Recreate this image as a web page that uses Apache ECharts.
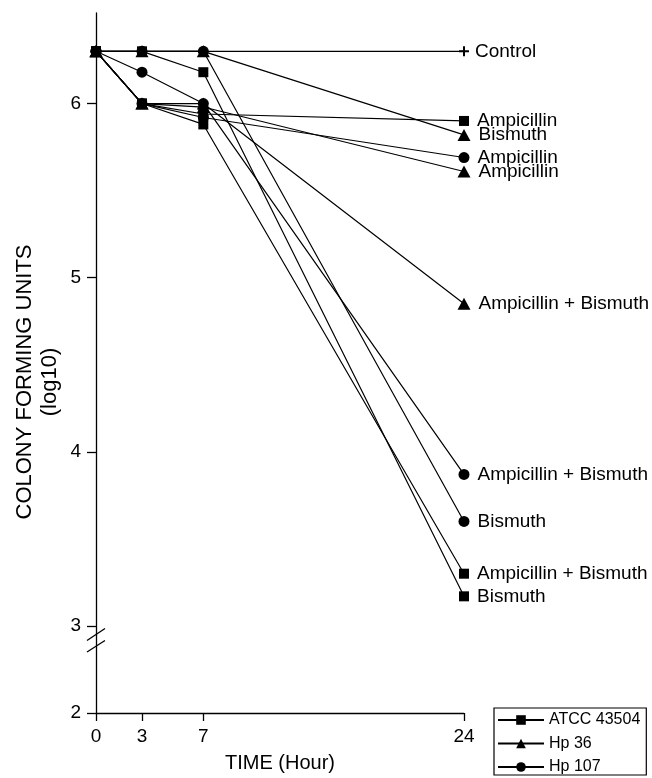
<!DOCTYPE html>
<html>
<head>
<meta charset="utf-8">
<script src="https://cdn.jsdelivr.net/npm/echarts@6/dist/echarts.min.js"></script>
<style>
html,body{margin:0;padding:0;background:#fff;}
#c{width:652px;height:778px;}
</style>
</head>
<body>
<div id="c"></div>
<script>
// ---- data ----
const times = [0, 3, 7, 24];
const xTickValues = [0, 3, 7, 24];
const yTickValues = [2, 3, 4, 5, 6];

const controlVals   = [6.3, 6.3, 6.3, 6.3];
// ATCC 43504 (squares)
const atccAmp       = [6.3, 6.0, 5.94, 5.9];
const atccAmpBis    = [6.3, 6.0, 5.88, 3.3];
const atccBis       = [6.3, 6.3, 6.18, 3.17];
// Hp 36 (triangles)
const hp36Bis       = [6.3, 6.3, 6.3, 5.82];
const hp36Amp       = [6.3, 6.0, 5.98, 5.61];
const hp36AmpBis    = [6.3, 6.0, 6.0, 4.85];
// Hp 107 (circles)
const hp107Bis      = [6.3, 6.3, 6.3, 3.6];
const hp107Amp      = [6.3, 6.0, 5.92, 5.69];
const hp107AmpBis   = [6.3, 6.18, 6.0, 3.87];

const strains = ['ATCC 43504', 'Hp 36', 'Hp 107'];

// broken axis: values below 3 are compressed by half
function toAxis(v){ return v >= 3 ? v : 3 - (3 - v) * 0.5; }
function fromAxis(a){ return a >= 3 ? a : 3 - (3 - a) * 2; }

const FONT = "'Liberation Sans', Arial, Helvetica, sans-serif";

function mk(strain, symbol, size, vals, treatment){
  return {
    name: strain, type: 'line', symbol: symbol, symbolSize: size,
    showAllSymbol: true, z: 3,
    lineStyle: {color: '#000', width: 1.2},
    itemStyle: {color: '#000'},
    emphasis: {disabled: true},
    data: vals.map(function(v, i){
      const item = {value: [times[i], toAxis(v)]};
      if (i === vals.length - 1) {
        item.label = {show: true, position: 'right', distance: 8, formatter: treatment,
          color: '#000', fontSize: 19, fontFamily: FONT};
      }
      return item;
    })
  };
}

const sq = 'rect', tri = 'triangle', cir = 'circle';
const series = [
  {
    name: 'Control', type: 'line', symbol: 'path://M4,0H6V4H10V6H6V10H4V6H0V4H4Z', symbolSize: 10,
    lineStyle: {color: '#000', width: 1.2}, itemStyle: {color: '#000'}, emphasis: {disabled: true},
    data: controlVals.map(function(v, i){
      const item = {value: [times[i], toAxis(v)]};
      if (i < controlVals.length - 1) item.symbol = 'none';
      else item.label = {show: true, position: 'right', distance: 6, formatter: 'Control',
        color: '#000', fontSize: 19, fontFamily: FONT};
      return item;
    })
  },
  mk(strains[2], cir, 11, hp107Bis, 'Bismuth'),
  mk(strains[2], cir, 11, hp107Amp, 'Ampicillin'),
  mk(strains[2], cir, 11, hp107AmpBis, 'Ampicillin + Bismuth'),
  mk(strains[1], tri, [13, 12], hp36Bis, 'Bismuth'),
  mk(strains[1], tri, [13, 12], hp36Amp, 'Ampicillin'),
  mk(strains[1], tri, [13, 12], hp36AmpBis, 'Ampicillin + Bismuth'),
  mk(strains[0], sq, 10, atccAmp, 'Ampicillin'),
  mk(strains[0], sq, 10, atccAmpBis, 'Ampicillin + Bismuth'),
  mk(strains[0], sq, 10, atccBis, 'Bismuth')
];

const chart = echarts.init(document.getElementById('c'), null, {renderer: 'canvas'});
chart.setOption({
  animation: false,
  backgroundColor: '#fff',
  textStyle: {fontFamily: FONT},
  grid: {left: 96, right: 188, top: 13, bottom: 63, containLabel: false},
  xAxis: {
    type: 'value', min: 0, max: 24,
    name: 'TIME (Hour)', nameLocation: 'middle', nameGap: 40,
    nameTextStyle: {color: '#000', fontSize: 20, fontFamily: FONT},
    axisLine: {show: true, lineStyle: {color: '#000', width: 1.3}},
    axisTick: {show: true, length: 8, lineStyle: {color: '#000', width: 1.3}, customValues: xTickValues},
    axisLabel: {color: '#000', fontSize: 19, margin: 14, customValues: xTickValues, fontFamily: FONT},
    splitLine: {show: false}
  },
  yAxis: {
    type: 'value', min: 2.5, max: 6.52,
    axisLine: {show: true, lineStyle: {color: '#000', width: 1.3}},
    axisTick: {show: true, length: 9, lineStyle: {color: '#000', width: 1.3}, customValues: yTickValues.map(toAxis)},
    axisLabel: {color: '#000', fontSize: 19, margin: 15, fontFamily: FONT,
      customValues: yTickValues.map(toAxis),
      formatter: function(a){ return String(Math.round(fromAxis(a))); }},
    splitLine: {show: false}
  },
  legend: {
    show: true, orient: 'vertical', left: 494, top: 708,
    data: strains,
    itemWidth: 46, itemHeight: 12, itemGap: 7.5,
    padding: [4, 6, 0, 3],
    borderColor: '#000', borderWidth: 1.2,
    selectedMode: false,
    textStyle: {color: '#000', fontSize: 16, lineHeight: 16, fontFamily: FONT}
  },
  series: series
});

// axis break marks and y-axis title
const p3 = chart.convertToPixel({gridIndex: 0}, [0, toAxis(3)]);
chart.setOption({
  graphic: [
    {type: 'line', shape: {x1: p3[0] - 9, y1: p3[1] + 14.5, x2: p3[0] + 9, y2: p3[1] + 2.5},
     style: {stroke: '#000', lineWidth: 1.3}, z: 10},
    {type: 'line', shape: {x1: p3[0] - 9, y1: p3[1] + 26, x2: p3[0] + 9, y2: p3[1] + 14.5},
     style: {stroke: '#000', lineWidth: 1.3}, z: 10},
    {type: 'text', x: 37, y: 382, rotation: Math.PI / 2,
     style: {text: 'COLONY FORMING UNITS\n(log10)', fill: '#000', fontSize: 22, fontFamily: FONT,
       align: 'center', verticalAlign: 'middle', lineHeight: 25}}
  ]
});
</script>
</body>
</html>
